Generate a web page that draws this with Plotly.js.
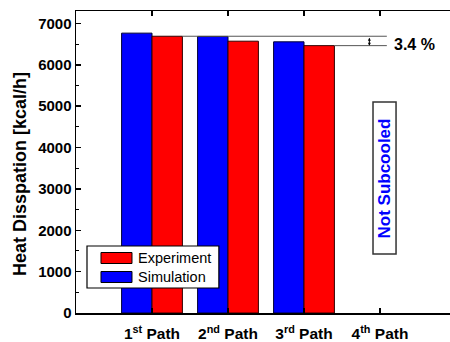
<!DOCTYPE html>
<html><head><meta charset="utf-8">
<script src="https://cdn.plot.ly/plotly-3.0.1.min.js"></script>
<style>html,body{margin:0;padding:0;overflow:hidden;background:#fff}</style>
</head><body>
<div id="chart" style="width:450px;height:342px"></div>
<script>
const categories = [1, 2, 3, 4];
const tickLabels = ["1<sup>st</sup> Path", "2<sup>nd</sup> Path", "3<sup>rd</sup> Path", "4<sup>th</sup> Path"];
const simulation = [6765, 6685, 6555, null];
const experiment = [6690, 6570, 6463, null];
const seriesNames = ["Simulation", "Experiment"];
const seriesColors = ["#0000ff", "#ff0000"];
const noteText = "Not Subcooled";
const yTitle = "Heat Disspation [kcal/h]";

const FONT = "'Liberation Sans', Arial, sans-serif";
const pct = ((1 - experiment[2] / experiment[0]) * 100).toFixed(1) + " %";

const traces = [
  {type: 'bar', name: seriesNames[0], x: categories, y: simulation, showlegend: false,
   marker: {color: seriesColors[0], line: {color: '#000030', width: 1}}},
  {type: 'bar', name: seriesNames[1], x: categories, y: experiment, showlegend: false,
   marker: {color: seriesColors[1], line: {color: '#300000', width: 1}}}
];

// legend drawn as shapes + annotations (paper coords), Experiment first
const legendRows = [
  {name: seriesNames[1], color: seriesColors[1], yc: 0.1821},
  {name: seriesNames[0], color: seriesColors[0], yc: 0.1192}
];
const shapes = [
  {type: 'rect', xref: 'paper', yref: 'paper', x0: 0.0294, x1: 0.382, y0: 0.0828, y1: 0.2219,
   fillcolor: '#fff', line: {color: '#000', width: 1.2}, layer: 'above'}
];
const annotations = [];
legendRows.forEach(r => {
  shapes.push({type: 'rect', xref: 'paper', yref: 'paper', x0: 0.0668, x1: 0.1497,
    y0: r.yc - 0.0182, y1: r.yc + 0.0182, fillcolor: r.color,
    line: {color: '#000', width: 1}, layer: 'above'});
  annotations.push({xref: 'paper', yref: 'paper', x: 0.1604, y: r.yc, text: r.name,
    showarrow: false, xanchor: 'left', yanchor: 'middle',
    font: {family: FONT, size: 14.5, color: '#000'}});
});

const lineX1 = 4.09, arrowX = 3.86;
shapes.push(
  {type: 'line', xref: 'x', yref: 'y', x0: 1.4, x1: lineX1, y0: experiment[0], y1: experiment[0],
   line: {color: '#555', width: 1}},
  {type: 'line', xref: 'x', yref: 'y', x0: 3.4, x1: lineX1, y0: experiment[2], y1: experiment[2],
   line: {color: '#555', width: 1}},
  {type: 'rect', xref: 'x', yref: 'y', x0: 3.908, x1: 4.211, y0: 1426, y1: 5100,
   fillcolor: '#fff', line: {color: '#333', width: 1.5}}
);
annotations.push(
  {xref: 'x', yref: 'y', x: arrowX, y: experiment[2], ax: arrowX, ay: experiment[0],
   axref: 'x', ayref: 'y', showarrow: true, arrowhead: 2, arrowside: 'end+start',
   arrowsize: 0.6, arrowwidth: 1, arrowcolor: '#000', text: ''},
  {xref: 'x', yref: 'y', x: 4.16, y: 6500, text: pct,
   showarrow: false, xanchor: 'left', yanchor: 'middle',
   font: {family: FONT, size: 16, color: '#000', weight: 'bold'}},
  {xref: 'x', yref: 'y', x: 4.059, y: 3263, text: noteText, textangle: -90,
   showarrow: false,
   font: {family: FONT, size: 17, color: '#0000ff', weight: 'bold'}},
  {xref: 'paper', yref: 'paper', x: -0.1497, y: 0.46, text: yTitle, textangle: -90,
   showarrow: false, xanchor: 'center', yanchor: 'middle',
   font: {family: FONT, size: 18, color: '#000', weight: 'bold'}}
);

const layout = {
  width: 450, height: 342,
  margin: {l: 76, r: 0, t: 11, b: 29},
  paper_bgcolor: '#fff', plot_bgcolor: '#fff',
  font: {family: FONT, color: '#000'},
  barmode: 'group', bargap: 0.2, bargroupgap: 0,
  showlegend: false,
  xaxis: {range: [0, 4.921], tickvals: categories, ticktext: tickLabels,
          showline: true, linecolor: '#000', linewidth: 1.5, mirror: 'ticks',
          ticks: 'inside', ticklen: 5, tickwidth: 1.5, tickcolor: '#000',
          ticklabelstandoff: 6,
          showgrid: false, zeroline: false, fixedrange: true,
          tickfont: {family: FONT, size: 15.5, color: '#000', weight: 'bold'}},
  yaxis: {range: [0, 7300], dtick: 1000, tick0: 0,
          showline: true, linecolor: '#000', linewidth: 1.5, mirror: false,
          ticks: 'inside', ticklen: 5, tickwidth: 1.5, tickcolor: '#000',
          minor: {dtick: 500, ticks: 'inside', ticklen: 3, tickwidth: 1, tickcolor: '#000'},
          showgrid: false, zeroline: false,
          tickfont: {family: FONT, size: 15, color: '#000', weight: 'bold'}},
  shapes: shapes,
  annotations: annotations
};

Plotly.newPlot('chart', traces, layout, {displayModeBar: false, staticPlot: true});
</script>
</body></html>
